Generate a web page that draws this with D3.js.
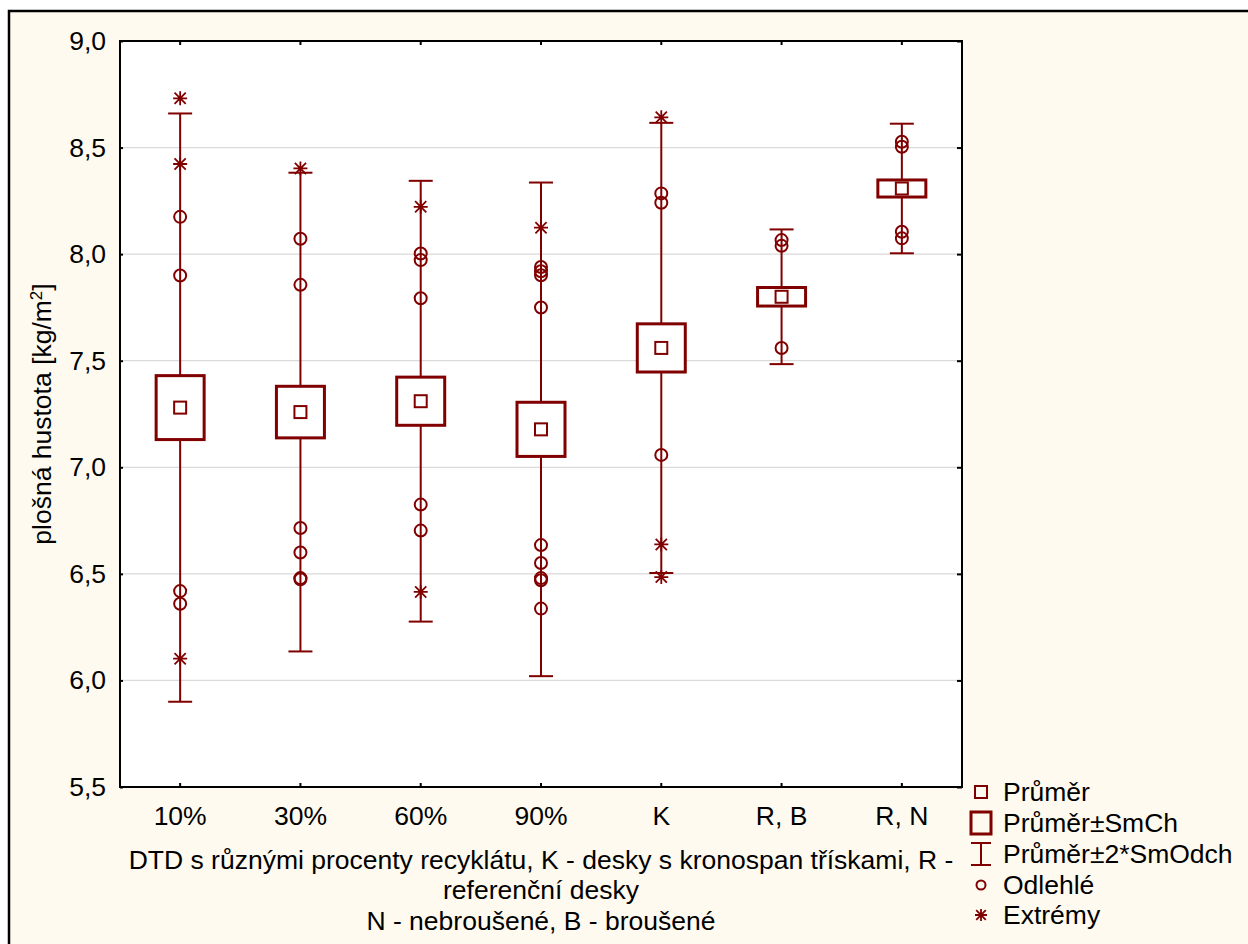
<!DOCTYPE html>
<html>
<head>
<meta charset="utf-8">
<script src="https://cdn.jsdelivr.net/npm/d3@7"></script>
<style>
  html, body { margin: 0; padding: 0; background: #ffffff; }
  svg { display: block; font-family: "Liberation Sans", Arial, sans-serif; }
</style>
</head>
<body>
<svg id="chart" width="1248" height="944"></svg>
<script>
// Plošná hustota desek: průměr, ±SmCh, ±2*SmOdch, odlehlé body a extrémy
const categories = ["10%", "30%", "60%", "90%", "K", "R, B", "R, N"];
const means      = [7.280, 7.259, 7.310, 7.178, 7.560, 7.800, 8.308];
const stdErrors  = [0.150, 0.121, 0.113, 0.127, 0.113, 0.0435, 0.040];
const stdDevs    = [0.690, 0.5615, 0.517, 0.579, 0.528, 0.158, 0.152];
const outliers = [
  [8.175, 7.900, 6.419, 6.360],
  [8.072, 7.856, 6.715, 6.600, 6.480, 6.475],
  [8.003, 7.972, 7.793, 6.825, 6.703],
  [7.940, 7.920, 7.901, 7.750, 6.635, 6.551, 6.480, 6.470, 6.337],
  [8.285, 8.241, 7.058],
  [8.066, 8.039, 7.560],
  [8.527, 8.504, 8.105, 8.074]
];
const extremes = [
  [8.731, 8.423, 6.102],
  [8.402],
  [8.222, 6.415],
  [8.124],
  [8.642, 6.638, 6.485],
  [],
  []
];
const yTickValues = [5.5, 6.0, 6.5, 7.0, 7.5, 8.0, 8.5, 9.0];
const yTickLabels = ["5,5", "6,0", "6,5", "7,0", "7,5", "8,0", "8,5", "9,0"];
const gridValues  = [6.0, 6.5, 7.0, 7.5, 8.0, 8.5];
const legendItems = ["Průměr", "Průměr±SmCh", "Průměr±2*SmOdch", "Odlehlé", "Extrémy"];
const xTitleLines = [
  "DTD s různými procenty recyklátu, K - desky s kronospan třískami, R -",
  "referenční desky",
  "N - nebroušené, B - broušené"
];

const RED = "#800000";
const FONT = 26.5;

const svg = d3.select("#chart");

// outer panel
svg.append("rect").attr("x", 9).attr("y", 11).attr("width", 1260).attr("height", 960)
  .attr("fill", "#fffaef").attr("stroke", "#000").attr("stroke-width", 2.5);

const plot = { left: 120, right: 962, top: 41, bottom: 787 };

const y = d3.scaleLinear().domain([5.5, 9.0]).range([plot.bottom, plot.top]);
const x = d3.scaleBand().domain(categories).range([plot.left, plot.right]);
const cx = c => x(c) + x.bandwidth() / 2;

// plot background
svg.append("rect")
  .attr("x", plot.left).attr("y", plot.top)
  .attr("width", plot.right - plot.left).attr("height", plot.bottom - plot.top)
  .attr("fill", "#fff");

// gridlines
svg.append("g").selectAll("line").data(gridValues).join("line")
  .attr("x1", plot.left).attr("x2", plot.right)
  .attr("y1", d => y(d)).attr("y2", d => y(d))
  .attr("stroke", "#dadada").attr("stroke-width", 1.2);

// axes
const fmtY = (d, i) => yTickLabels[i];
const gLeft = svg.append("g").attr("transform", `translate(${plot.left},0)`)
  .call(d3.axisLeft(y).tickValues(yTickValues).tickFormat(fmtY).tickSizeInner(-3).tickSizeOuter(0).tickPadding(14));
const gRight = svg.append("g").attr("transform", `translate(${plot.right},0)`)
  .call(d3.axisRight(y).tickValues(yTickValues).tickFormat("").tickSizeInner(-5).tickSizeOuter(0));
const gTop = svg.append("g").attr("transform", `translate(0,${plot.top})`)
  .call(d3.axisTop(x).tickFormat("").tickSizeInner(-4).tickSizeOuter(0));
const gBottom = svg.append("g").attr("transform", `translate(0,${plot.bottom})`)
  .call(d3.axisBottom(x).tickSizeInner(-4).tickSizeOuter(0).tickPadding(19));

[gLeft, gRight, gTop, gBottom].forEach(g => {
  g.select(".domain").remove();
  g.selectAll(".tick line").attr("stroke", "#000").attr("stroke-width", 2);
  g.selectAll(".tick text").attr("fill", "#000").style("font-size", FONT + "px")
    .style("font-family", '"Liberation Sans", Arial, sans-serif');
});

// plot frame
svg.append("rect")
  .attr("x", plot.left).attr("y", plot.top)
  .attr("width", plot.right - plot.left).attr("height", plot.bottom - plot.top)
  .attr("fill", "none").attr("stroke", "#000").attr("stroke-width", 2);

// asterisk marker path
function asterisk(s) {
  const d = s * 0.8;
  return `M${-s},0L${s},0M0,${-s}L0,${s}M${-d},${-d}L${d},${d}M${-d},${d}L${d},${-d}`;
}

const boxW = 48, capW = 24, meanS = 12;
const groups = svg.append("g").selectAll("g").data(categories).join("g")
  .attr("transform", c => `translate(${cx(c)},0)`);

// whiskers: mean ± 2*SD
groups.append("line")
  .attr("x1", 0).attr("x2", 0)
  .attr("y1", (c, i) => y(means[i] + 2 * stdDevs[i]))
  .attr("y2", (c, i) => y(means[i] - 2 * stdDevs[i]))
  .attr("stroke", RED).attr("stroke-width", 2);
groups.selectAll("line.cap").data((c, i) => [means[i] + 2 * stdDevs[i], means[i] - 2 * stdDevs[i]])
  .join("line").attr("class", "cap")
  .attr("x1", -capW / 2).attr("x2", capW / 2)
  .attr("y1", d => y(d)).attr("y2", d => y(d))
  .attr("stroke", RED).attr("stroke-width", 2);

// box: mean ± SE
groups.append("rect")
  .attr("x", -boxW / 2).attr("width", boxW)
  .attr("y", (c, i) => y(means[i] + stdErrors[i]))
  .attr("height", (c, i) => y(means[i] - stdErrors[i]) - y(means[i] + stdErrors[i]))
  .attr("fill", "#fff").attr("stroke", RED).attr("stroke-width", 3);

// mean
groups.append("rect")
  .attr("x", -meanS / 2).attr("width", meanS).attr("height", meanS)
  .attr("y", (c, i) => y(means[i]) - meanS / 2)
  .attr("fill", "#fff").attr("stroke", RED).attr("stroke-width", 2);

// outliers
groups.selectAll("circle.out").data((c, i) => outliers[i]).join("circle")
  .attr("class", "out").attr("cx", 0).attr("cy", d => y(d)).attr("r", 6)
  .attr("fill", "none").attr("stroke", RED).attr("stroke-width", 2);

// extremes
groups.selectAll("path.ext").data((c, i) => extremes[i]).join("path")
  .attr("class", "ext").attr("transform", d => `translate(0,${y(d)})`)
  .attr("d", asterisk(7)).attr("fill", "none").attr("stroke", RED).attr("stroke-width", 1.8);

// y-axis title
svg.append("text")
  .attr("transform", `translate(51,${(plot.top + plot.bottom) / 2}) rotate(-90)`)
  .attr("text-anchor", "middle").style("font-size", FONT + "px").attr("fill", "#000")
  .call(t => {
    t.append("tspan").text("plošná hustota [kg/m");
    t.append("tspan").text("2").attr("baseline-shift", "super").style("font-size", "17px");
    t.append("tspan").text("]");
  });

// x-axis title
svg.append("g").selectAll("text").data(xTitleLines).join("text")
  .attr("x", (plot.left + plot.right) / 2)
  .attr("y", (d, i) => [860, 890, 921][i])
  .attr("dy", "0.35em").attr("text-anchor", "middle")
  .style("font-size", FONT + "px").attr("fill", "#000").text(d => d);

// legend
const lg = svg.append("g");
const lx = 981, rowsY = [792, 823, 854, 885, 915];
lg.append("rect").attr("x", lx - 6).attr("y", rowsY[0] - 6).attr("width", 12).attr("height", 12)
  .attr("fill", "none").attr("stroke", RED).attr("stroke-width", 2);
lg.append("rect").attr("x", lx - 10).attr("y", rowsY[1] - 11).attr("width", 20).attr("height", 22)
  .attr("fill", "none").attr("stroke", RED).attr("stroke-width", 3);
lg.append("path").attr("d", `M${lx - 10},${rowsY[2] - 11}H${lx + 10}M${lx},${rowsY[2] - 11}V${rowsY[2] + 11}M${lx - 10},${rowsY[2] + 11}H${lx + 10}`)
  .attr("fill", "none").attr("stroke", RED).attr("stroke-width", 2);
lg.append("circle").attr("cx", lx).attr("cy", rowsY[3]).attr("r", 4.5)
  .attr("fill", "none").attr("stroke", RED).attr("stroke-width", 2);
lg.append("path").attr("transform", `translate(${lx},${rowsY[4]})`).attr("d", asterisk(6))
  .attr("fill", "none").attr("stroke", RED).attr("stroke-width", 1.8);
lg.selectAll("text").data(legendItems).join("text")
  .attr("x", 1003).attr("y", (d, i) => rowsY[i]).attr("dy", "0.35em")
  .style("font-size", FONT + "px").attr("fill", "#000").text(d => d);
</script>
</body>
</html>
